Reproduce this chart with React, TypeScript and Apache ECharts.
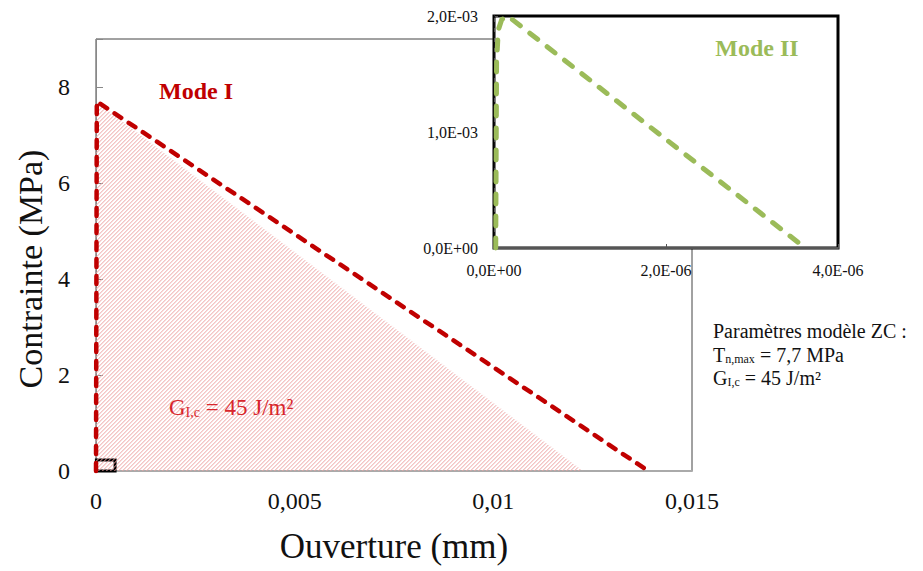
import React, { useEffect, useRef } from "react";
import * as echarts from "echarts";

// Mode I traction-separation curve (Ouverture mm, Contrainte MPa)
const modeIData: number[][] = [
  [0, 0],
  [0.00002, 7.7],
  [0.0139, 0],
];
// Hatched area representing G_Ic: top-left vertex, bottom-right vertex
const hatchData: number[][] = [
  [0, 7.7],
  [0.01225, 0],
];
// Mode II curve for the inset
const modeIIData: number[][] = [
  [0.00000002, 0],
  [0.00000003, 1.6e-3],
  [0.00000005, 1.88e-3],
  [0.00000009, 1.97e-3],
  [0.00000016, 2.0e-3],
  [0.00000362, 0],
];
const insetAxisLine: number[][] = [
  [0, 0],
  [0, 2.0e-3],
];
const zoomBox: number[][] = [
  [0.00001, -0.04],
  [0.00048, 0.23],
];
const mainYLabels = [0, 2, 4, 6, 8];
const mainX = { min: 0, max: 0.015, interval: 0.005 };
const mainY = { min: 0, max: 9, interval: 2 };
const insetX = { min: 0, max: 4e-6, interval: 2e-6 };
const insetY = { min: 0, max: 2e-3, interval: 1e-3 };

const FONT = "'Liberation Serif', 'DejaVu Serif', serif";

function fmtSci(v: number): string {
  if (v === 0) return "0,0E+00";
  const exp = Math.floor(Math.log10(Math.abs(v)) + 1e-9);
  const mant = v / Math.pow(10, exp);
  const sign = exp < 0 ? "-" : "+";
  const e = Math.abs(exp).toString().padStart(2, "0");
  return mant.toFixed(1).replace(".", ",") + "E" + sign + e;
}

function rich(size: number, sub: number, color: string, shift: number) {
  return {
    g: { font: `${size}px ${FONT}`, fill: color },
    s: { font: `${sub}px ${FONT}`, fill: color, lineHeight: sub, padding: [shift, 0, 0, 0] },
    n: { font: `${size}px ${FONT}`, fill: color },
  };
}

function renderHatch(_params: any, api: any) {
  const A = api.coord([hatchData[0][0], hatchData[1][1]]);
  const B = api.coord(hatchData[0]);
  const C = api.coord(hatchData[1]);
  const x0 = A[0];
  const yb = A[1];
  const yt = B[1];
  const xc = C[0];
  const step = 4;
  const children: any[] = [];
  for (let c = x0 + yt + step; c < xc + yb; c += step) {
    const pts: number[][] = [];
    const yl = c - x0;
    if (yl >= yt && yl <= yb) pts.push([x0, yl]);
    const xbm = c - yb;
    if (xbm > x0 && xbm <= xc) pts.push([xbm, yb]);
    const t = (c - x0 - yt) / (xc - x0 + (yb - yt));
    if (t >= 0 && t <= 1) pts.push([x0 + t * (xc - x0), yt + t * (yb - yt)]);
    if (pts.length >= 2) {
      const p = pts[0];
      const q = pts[pts.length - 1];
      children.push({
        type: "line",
        shape: { x1: p[0], y1: p[1], x2: q[0], y2: q[1] },
        style: { stroke: "#EDA2A2", lineWidth: 1 },
      });
    }
  }
  return { type: "group", children };
}

export default function App() {
  const ref = useRef<HTMLDivElement>(null);
  useEffect(() => {
    if (!ref.current) return;
    const chart = echarts.init(ref.current, null, { renderer: "svg" });
    const option: any = {
      animation: false,
      backgroundColor: "#fff",
      textStyle: { fontFamily: FONT },
      grid: [
        {
          left: 96,
          right: 231,
          top: 39,
          bottom: 100,
          outerBoundsMode: "none",
          containLabel: false,
          show: true,
          borderColor: "#444",
          borderWidth: 1,
          z: 0,
        },
        {
          left: 494,
          right: 85,
          top: 16,
          bottom: 323,
          outerBoundsMode: "none",
          containLabel: false,
          show: true,
          backgroundColor: "#fff",
          borderColor: "#000",
          borderWidth: 3,
          z: 3,
        },
      ],
      xAxis: [
        {
          gridIndex: 0,
          type: "value",
          min: mainX.min,
          max: mainX.max,
          interval: mainX.interval,
          splitLine: { show: false },
          axisLine: { lineStyle: { color: "#aaa", width: 2 } },
          axisTick: { show: false },
          axisLabel: {
            margin: 18,
            fontSize: 24,
            fontFamily: FONT,
            color: "#111",
            formatter: (v: number) =>
              v === 0 ? "0" : String(parseFloat(v.toPrecision(6))).replace(".", ","),
          },
          name: "Ouverture (mm)",
          nameLocation: "middle",
          nameGap: 58,
          nameMoveOverlap: false,
          nameTextStyle: { fontSize: 35, fontFamily: FONT, color: "#111" },
        },
        {
          gridIndex: 1,
          type: "value",
          min: insetX.min,
          max: insetX.max,
          interval: insetX.interval,
          z: 4,
          splitLine: { show: false },
          axisLine: { onZero: false, lineStyle: { color: "#555", width: 2 } },
          axisTick: { show: true, inside: true, length: 4, lineStyle: { color: "#555" } },
          axisLabel: {
            margin: 14,
            fontSize: 16,
            fontFamily: FONT,
            color: "#111",
            formatter: (v: number) => fmtSci(v),
          },
        },
      ],
      yAxis: [
        {
          gridIndex: 0,
          type: "value",
          min: mainY.min,
          max: mainY.max,
          interval: mainY.interval,
          splitLine: { show: false },
          axisLine: { show: true, lineStyle: { color: "#888", width: 1 } },
          axisTick: { show: true, inside: true, length: 7, lineStyle: { color: "#888" } },
          axisLabel: {
            margin: 26,
            fontSize: 24,
            fontFamily: FONT,
            color: "#111",
            formatter: (v: number) => (mainYLabels.indexOf(v) >= 0 ? String(v) : ""),
          },
          name: "Contrainte (MPa)",
          nameLocation: "middle",
          nameGap: 49,
          nameMoveOverlap: false,
          nameTextStyle: { fontSize: 34, fontFamily: FONT, color: "#111", padding: [0, 28, 0, 0] },
        },
        {
          gridIndex: 1,
          type: "value",
          min: insetY.min,
          max: insetY.max,
          interval: insetY.interval,
          z: 4,
          splitLine: { show: false },
          axisLine: { show: true, onZero: false, lineStyle: { color: "#555", width: 1 } },
          axisTick: { show: true, inside: true, length: 4, lineStyle: { color: "#555" } },
          axisLabel: {
            margin: 16,
            fontSize: 16,
            fontFamily: FONT,
            color: "#111",
            formatter: (v: number) => fmtSci(v),
          },
        },
      ],
      series: [
        {
          type: "custom",
          name: "hatch",
          xAxisIndex: 0,
          yAxisIndex: 0,
          data: [[0, 0]],
          renderItem: renderHatch,
          silent: true,
          z: 1,
        },
        {
          type: "line",
          name: "Mode I",
          xAxisIndex: 0,
          yAxisIndex: 0,
          data: modeIData,
          symbol: "none",
          clip: false,
          lineStyle: { color: "#C00000", width: 4.5, type: [8, 9], cap: "round", join: "round" },
          markArea: {
            silent: true,
            itemStyle: { color: "rgba(0,0,0,0)", borderColor: "#000", borderWidth: 3 },
            data: [[{ coord: zoomBox[0] }, { coord: zoomBox[1] }]],
          },
          z: 2,
        },
        {
          type: "line",
          name: "axis2",
          xAxisIndex: 1,
          yAxisIndex: 1,
          data: insetAxisLine,
          symbol: "none",
          clip: false,
          lineStyle: { color: "#000", width: 1.5, type: [6, 4] },
          z: 5,
        },
        {
          type: "line",
          name: "Mode II",
          xAxisIndex: 1,
          yAxisIndex: 1,
          data: modeIIData,
          symbol: "none",
          clip: false,
          lineStyle: { color: "#9BBB59", width: 5, type: [10, 12], cap: "round", join: "round" },
          z: 6,
        },
      ],
      graphic: [
        {
          type: "text",
          z: 10,
          x: 196,
          y: 91,
          style: {
            text: "Mode I",
            fill: "#C00000",
            font: `bold 24px ${FONT}`,
            align: "center",
            verticalAlign: "middle",
          },
        },
        {
          type: "text",
          z: 10,
          x: 757,
          y: 48,
          style: {
            text: "Mode II",
            fill: "#9BBB59",
            font: `bold 24px ${FONT}`,
            align: "center",
            verticalAlign: "middle",
          },
        },
        {
          type: "text",
          z: 10,
          x: 169,
          y: 407,
          style: {
            text: "{g|G}{s|I,c}{n| = 45 J/m²}",
            fill: "#D8262C",
            font: `23px ${FONT}`,
            align: "left",
            verticalAlign: "middle",
            rich: rich(23, 14, "#D8262C", 10),
          },
        },
        {
          type: "text",
          z: 10,
          x: 713,
          y: 331,
          style: {
            text: "Paramètres modèle ZC :",
            fill: "#111",
            font: `20px ${FONT}`,
            align: "left",
            verticalAlign: "middle",
          },
        },
        {
          type: "text",
          z: 10,
          x: 713,
          y: 355,
          style: {
            text: "{g|T}{s|n,max}{n| = 7,7 MPa}",
            fill: "#111",
            font: `20px ${FONT}`,
            align: "left",
            verticalAlign: "middle",
            rich: rich(20, 12, "#111", 8),
          },
        },
        {
          type: "text",
          z: 10,
          x: 713,
          y: 378,
          style: {
            text: "{g|G}{s|I,c}{n| = 45 J/m²}",
            fill: "#111",
            font: `20px ${FONT}`,
            align: "left",
            verticalAlign: "middle",
            rich: rich(20, 12, "#111", 8),
          },
        },
      ],
    };
    chart.setOption(option);
    return () => chart.dispose();
  }, []);
  return (
    <div
      ref={ref}
      style={{ position: "fixed", left: 0, top: 0, width: 923, height: 571 }}
    />
  );
}
